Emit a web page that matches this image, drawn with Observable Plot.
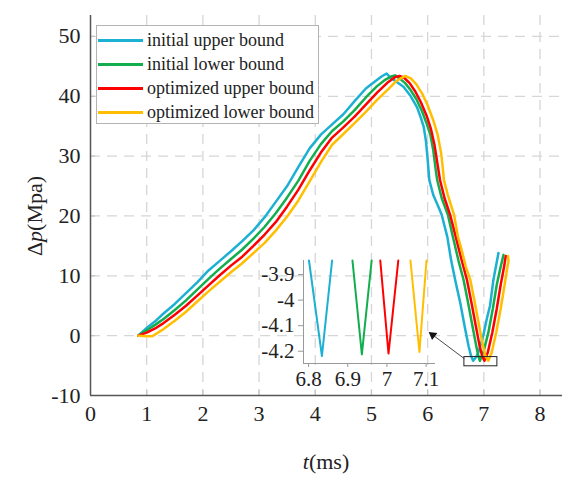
<!DOCTYPE html>
<html><head><meta charset="utf-8">
<script src="https://cdn.jsdelivr.net/npm/d3@7"></script>
<script src="https://cdn.jsdelivr.net/npm/@observablehq/plot@0.6"></script>
<style>
body{margin:0;background:#fff}
#wrap{position:relative;width:580px;height:481px;font-family:"Liberation Serif",serif}
#inset{position:absolute;left:240px;top:255px;width:200px}
#legend{position:absolute;left:96px;top:25px;width:221px;height:97px;border:1px solid #b4b4b4;background:#fff}
.row{position:absolute;left:1px;height:24px;display:flex;align-items:center;font-size:18px;color:#222;white-space:nowrap}
.sw{width:45px;height:3px;margin-right:4px}
</style></head>
<body><div id="wrap"><div id="main"></div><div id="inset"></div><div id="legend"></div></div>
<script>
// ---- data ----
const seriesNames = ["initial upper bound","initial lower bound","optimized upper bound","optimized lower bound"];
const seriesColors = ["#1cb0d3","#12ae4e","#ff0000","#ffbf00"];

const initialUpperT = [0.85,1.0,1.15,1.3,1.5,1.7,1.9,2.1,2.3,2.5,2.7,2.9,3.1,3.3,3.5,3.7,3.9,4.1,4.3,4.5,4.7,4.9,5.05,5.18,5.27,5.33,5.45,5.57,5.7,5.81,5.88,5.93,5.97,6.0,6.03,6.1,6.18,6.25,6.35,6.42,6.49,6.58,6.66,6.73,6.77,6.81,6.86,6.9,6.99,7.05,7.11,7.17,7.26];
const initialUpperV = [0,1.3,2.4,3.7,5.3,7.1,8.9,10.9,12.5,14.1,15.8,17.6,19.8,22.4,25.0,28.2,31.3,33.6,35.3,37.0,39.2,41.3,42.4,43.3,43.8,43.2,42.4,41.6,40.0,38.2,36.4,34.9,32.5,29.5,26.0,23.5,21.8,20.2,16.5,12.5,9.3,5.5,1.5,-1.8,-3.3,-4.2,-3.6,-2.9,0.0,2.7,5.0,9.3,13.8];

const initialLowerT = [0.85,1.0,1.15,1.3,1.5,1.7,1.9,2.1,2.3,2.5,2.7,2.9,3.1,3.3,3.5,3.7,3.9,4.1,4.3,4.5,4.7,4.9,5.1,5.25,5.35,5.42,5.5,5.6,5.7,5.8,5.9,5.98,6.05,6.1,6.14,6.17,6.25,6.36,6.45,6.55,6.64,6.72,6.8,6.86,6.9,6.93,7.0,7.08,7.16,7.23,7.3,7.35];
const initialLowerV = [0,0.9,1.8,2.8,4.3,5.9,7.7,9.5,11.2,12.8,14.4,16.2,18.2,20.5,23.1,25.9,29.2,32.0,34.2,35.8,37.7,39.8,41.7,42.8,43.3,43.5,43.0,42.2,41.0,39.5,37.5,35.5,33.5,31.0,28.0,26.0,23.0,20.2,16.5,12.5,9.3,5.5,1.5,-1.5,-3.3,-4.2,-2.5,0.5,4.5,8.5,11.5,13.5];

const optimizedUpperT = [0.85,1.0,1.15,1.3,1.5,1.7,1.9,2.1,2.3,2.5,2.7,2.9,3.1,3.3,3.5,3.7,3.9,4.1,4.3,4.5,4.7,4.9,5.1,5.3,5.42,5.5,5.58,5.68,5.78,5.88,5.98,6.06,6.12,6.17,6.22,6.3,6.4,6.5,6.6,6.7,6.78,6.86,6.92,6.97,7.01,7.07,7.15,7.23,7.3,7.36,7.39];
const optimizedUpperV = [0,0.5,1.2,2.1,3.5,5.0,6.7,8.4,10.1,11.7,13.2,15.0,16.9,19.0,21.6,24.4,27.6,30.6,33.1,34.8,36.6,38.6,40.6,42.4,43.2,43.4,43.1,42.2,40.8,39.0,36.8,34.5,32.0,29.0,26.0,23.0,20.2,16.5,12.8,9.3,5.5,1.5,-1.5,-3.4,-4.2,-2.8,0.5,4.5,8.5,11.5,13.3];

const optimizedLowerT = [0.85,1.0,1.1,1.3,1.5,1.7,1.9,2.1,2.3,2.5,2.7,2.9,3.1,3.3,3.5,3.7,3.9,4.1,4.3,4.5,4.7,4.9,5.1,5.3,5.45,5.6,5.7,5.8,5.9,6.0,6.1,6.18,6.24,6.27,6.29,6.36,6.47,6.54,6.6,6.68,6.76,6.84,6.92,6.98,7.03,7.08,7.14,7.22,7.3,7.37,7.42,7.44,7.43];
const optimizedLowerV = [0,-0.1,-0.1,1.1,2.5,4.0,5.7,7.4,9.0,10.6,12.1,13.8,15.5,17.6,19.9,22.6,25.8,29.0,31.9,33.7,35.5,37.4,39.4,41.2,42.6,43.4,43.0,42.0,40.5,38.5,36.0,33.5,30.5,28.0,26.0,23.5,20.2,16.5,14.5,11.5,9.3,5.5,1.5,-1.5,-3.4,-4.2,-2.8,0.5,4.5,8.5,11.5,12.5,13.3];

// inset (zoom of the minima)
const insetUpperT = [6.801,6.834,6.860];  const insetUpperV = [-3.845,-4.219,-3.845];
const insetLowerT = [6.912,6.936,6.961];  const insetLowerV = [-3.845,-4.212,-3.845];
const insetOptUpperT = [6.983,7.004,7.029]; const insetOptUpperV = [-3.845,-4.209,-3.845];
const insetOptLowerT = [7.060,7.083,7.101]; const insetOptLowerV = [-3.845,-4.203,-3.845];

// axes
const xDomain = [0, 8.4];
const yDomain = [-10, 53.5];
const xTicks = [0,1,2,3,4,5,6,7,8];
const yTicks = [-10,0,10,20,30,40,50];
const xGrid = [1,2,3,4,5,6,7,8];
const yGrid = [0,10,20,30,40,50];
const insetXDomain = [6.787, 7.124];
const insetYDomain = [-4.248, -3.845];
const insetXTicks = [6.8,6.9,7,7.1];
const insetYTicks = [-3.9,-4,-4.1,-4.2];

// zoom box and arrow (data units)
const zoomBox = [{t1:6.654, t2:7.241, v1:-3.58, v2:-5.12}];
const arrowPts = [{x1:6.654, y1:-3.85, x2:6.09, y2:0.12}];

// ---- build ----
const zip = (T,V) => T.map((t,i)=>({t, v:V[i]}));
const mainSeries = [zip(initialUpperT,initialUpperV), zip(initialLowerT,initialLowerV), zip(optimizedUpperT,optimizedUpperV), zip(optimizedLowerT,optimizedLowerV)];
const insetSeries = [zip(insetUpperT,insetUpperV), zip(insetLowerT,insetLowerV), zip(insetOptUpperT,insetOptUpperV), zip(insetOptLowerT,insetOptLowerV)];
const fmt = d => String(d);
const gridStyle = {stroke:"#d6d6d6", strokeOpacity:1, strokeWidth:1.3, strokeDasharray:"10,7"};

const chart = Plot.plot({
  width: 580, height: 481,
  marginLeft: 90, marginRight: 18, marginTop: 15, marginBottom: 86,
  x: {domain: xDomain}, y: {domain: yDomain},
  style: {fontFamily: "Liberation Serif, serif", fontSize: "22px", color: "#222", background: "white", overflow: "visible"},
  marks: [
    Plot.gridX(xGrid, gridStyle),
    Plot.gridY(yGrid, gridStyle),
    Plot.ruleX(xGrid, {y1: yDomain[0], y2: yDomain[0], insetTop: -5, stroke: "#c4c4c4", strokeWidth: 1.2}),
    Plot.ruleY(yGrid, {x1: xDomain[0], x2: xDomain[0], insetRight: -5, stroke: "#c4c4c4", strokeWidth: 1.2}),
    ...mainSeries.map((d,i) => Plot.line(d, {x:"t", y:"v", stroke: seriesColors[i], strokeWidth: 2.5})),
    Plot.rect(zoomBox, {x1:"t1", x2:"t2", y1:"v1", y2:"v2", stroke:"#222", fill:"none", strokeWidth:1}),
    Plot.link(arrowPts, {x1:"x1", y1:"y1", x2:"x2", y2:"y2", stroke:"#333", strokeWidth:0.9}),
    Plot.dot(arrowPts, {x:"x2", y:"y2", symbol:"triangle2", r:4.2, fill:"#111", stroke:"none", rotate:-53}),
    Plot.ruleX([xDomain[0]], {stroke:"#555", strokeWidth:1.5}),
    Plot.ruleY([yDomain[0]], {stroke:"#555", strokeWidth:1.5}),
    Plot.axisX(xTicks, {tickSize:0, tickPadding:10, fontSize:22, label:null, tickFormat: fmt}),
    Plot.axisY(yTicks, {tickSize:0, tickPadding:10, fontSize:22, label:null, tickFormat: fmt})
  ]
});
document.getElementById("main").appendChild(chart);

const svg = d3.select(chart);
const xt = svg.append("text").attr("x", 326).attr("y", 469).attr("text-anchor","middle")
  .attr("font-size", 22).attr("fill", "#222").attr("font-family","Liberation Serif, serif");
xt.append("tspan").attr("font-style","italic").text("t");
xt.append("tspan").text("(ms)");
const yt = svg.append("text").attr("transform","translate(42,216) rotate(-90)").attr("text-anchor","middle")
  .attr("font-size", 22).attr("fill", "#222").attr("font-family","Liberation Serif, serif");
yt.append("tspan").text("Δ");
yt.append("tspan").attr("font-style","italic").text("p");
yt.append("tspan").text("(Mpa)");

const inset = Plot.plot({
  width: 200, height: 143,
  marginLeft: 63, marginRight: 5, marginTop: 5, marginBottom: 35,
  x: {domain: insetXDomain}, y: {domain: insetYDomain},
  style: {fontFamily: "Liberation Serif, serif", fontSize: "21px", color: "#222", background: "transparent", overflow: "visible"},
  marks: [
    ...insetSeries.map((d,i) => Plot.line(d, {x:"t", y:"v", stroke: seriesColors[i], strokeWidth: 2})),
    Plot.ruleX([insetXDomain[0]], {stroke:"#999", strokeWidth:1}),
    Plot.ruleY([insetYDomain[0]], {stroke:"#999", strokeWidth:1}),
    Plot.axisX(insetXTicks, {tickSize:4, tickPadding:4, stroke:"#999", fontSize:21, label:null, tickFormat: fmt}),
    Plot.axisY(insetYTicks, {tickSize:5, tickPadding:4, stroke:"#999", fontSize:21, label:null, tickFormat: fmt})
  ]
});
document.getElementById("inset").appendChild(inset);

const legend = document.getElementById("legend");
seriesNames.forEach((name, i) => {
  const row = document.createElement("div");
  row.className = "row";
  row.style.top = (2 + 24*i) + "px";
  const sw = document.createElement("span");
  sw.className = "sw"; sw.style.background = seriesColors[i];
  const tx = document.createElement("span");
  tx.textContent = name;
  row.appendChild(sw); row.appendChild(tx);
  legend.appendChild(row);
});
</script>
</body></html>
